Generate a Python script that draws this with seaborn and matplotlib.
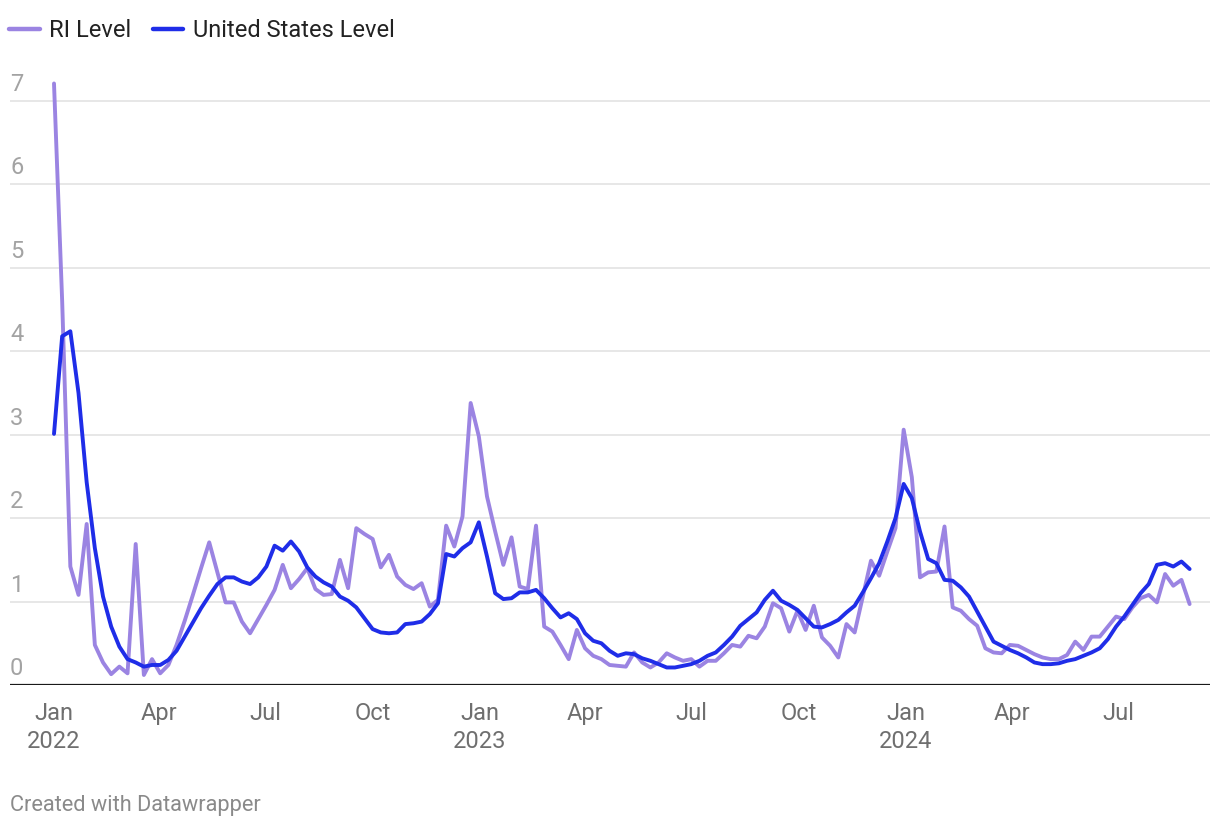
"""
RI vs United States level, weekly, Jan 2022 - Aug 2024 (Datawrapper-style line chart).
"""
import numpy as np
import pandas as pd
import matplotlib
matplotlib.use("Agg")
import matplotlib.pyplot as plt
import matplotlib.transforms as mtransforms
import seaborn as sns

# ── 1. Data ──────────────────────────────────────────────
first_week = "2022-01-01"

ri_level = [
    7.21, 4.60, 1.42, 1.08, 1.93, 0.48, 0.27, 0.13, 0.22, 0.14,
    1.69, 0.12, 0.31, 0.14, 0.24, 0.48, 0.77, 1.08, 1.40, 1.71,
    1.35, 0.99, 0.99, 0.76, 0.62, 0.79, 0.96, 1.14, 1.44, 1.16,
    1.27, 1.40, 1.15, 1.08, 1.09, 1.50, 1.16, 1.88, 1.81, 1.75,
    1.41, 1.56, 1.30, 1.20, 1.15, 1.22, 0.94, 1.02, 1.91, 1.66,
    2.02, 3.38, 2.98, 2.26, 1.84, 1.44, 1.77, 1.18, 1.15, 1.91,
    0.70, 0.64, 0.48, 0.31, 0.66, 0.44, 0.35, 0.31, 0.24, 0.23,
    0.22, 0.39, 0.27, 0.21, 0.27, 0.38, 0.33, 0.29, 0.31, 0.22,
    0.29, 0.29, 0.38, 0.48, 0.46, 0.59, 0.56, 0.70, 0.98, 0.92,
    0.64, 0.89, 0.66, 0.95, 0.57, 0.47, 0.33, 0.73, 0.63, 1.06,
    1.49, 1.31, 1.60, 1.88, 3.06, 2.49, 1.29, 1.35, 1.36, 1.90,
    0.93, 0.89, 0.79, 0.71, 0.44, 0.39, 0.38, 0.48, 0.47, 0.42,
    0.37, 0.33, 0.31, 0.31, 0.36, 0.52, 0.42, 0.58, 0.58, 0.70,
    0.82, 0.79, 0.93, 1.04, 1.08, 0.99, 1.33, 1.19, 1.26, 0.97,
]

us_level = [
    3.01, 4.18, 4.24, 3.50, 2.43, 1.64, 1.06, 0.70, 0.46, 0.31,
    0.27, 0.22, 0.24, 0.24, 0.30, 0.41, 0.58, 0.75, 0.92, 1.07,
    1.21, 1.29, 1.29, 1.24, 1.21, 1.29, 1.42, 1.67, 1.61, 1.72,
    1.60, 1.41, 1.30, 1.23, 1.18, 1.06, 1.01, 0.93, 0.80, 0.67,
    0.63, 0.62, 0.63, 0.73, 0.74, 0.76, 0.85, 0.98, 1.57, 1.54,
    1.64, 1.71, 1.95, 1.54, 1.10, 1.03, 1.04, 1.11, 1.11, 1.14,
    1.04, 0.92, 0.81, 0.86, 0.79, 0.62, 0.53, 0.50, 0.41, 0.35,
    0.38, 0.37, 0.32, 0.29, 0.25, 0.21, 0.21, 0.23, 0.25, 0.29,
    0.35, 0.39, 0.48, 0.58, 0.71, 0.79, 0.87, 1.02, 1.13, 1.01,
    0.96, 0.90, 0.80, 0.70, 0.69, 0.73, 0.78, 0.87, 0.95, 1.11,
    1.28, 1.46, 1.72, 2.00, 2.41, 2.24, 1.84, 1.51, 1.46, 1.26,
    1.25, 1.17, 1.06, 0.88, 0.70, 0.52, 0.47, 0.42, 0.38, 0.33,
    0.27, 0.25, 0.25, 0.26, 0.29, 0.31, 0.35, 0.39, 0.44, 0.55,
    0.70, 0.82, 0.96, 1.10, 1.21, 1.44, 1.46, 1.42, 1.48, 1.39,
]

series_names = ["RI Level", "United States Level"]
series_colors = ["#9b84e2", "#1f2de8"]

tick_dates = ["2022-01-01", "2022-04-01", "2022-07-01", "2022-10-01",
              "2023-01-01", "2023-04-01", "2023-07-01", "2023-10-01",
              "2024-01-01", "2024-04-01", "2024-07-01"]
tick_labels = ["Jan\n2022", "Apr", "Jul", "Oct",
               "Jan\n2023", "Apr", "Jul", "Oct",
               "Jan\n2024", "Apr", "Jul"]
y_ticks = [0, 1, 2, 3, 4, 5, 6, 7]

# ── 2. Long-form frame ───────────────────────────────────
weeks = pd.date_range(first_week, periods=len(ri_level), freq="7D")
df = pd.concat([
    pd.DataFrame({"week": weeks, "level": ri_level, "series": series_names[0]}),
    pd.DataFrame({"week": weeks, "level": us_level, "series": series_names[1]}),
])

# ── 3. Style ─────────────────────────────────────────────
sns.set_theme(style="white")
plt.rcParams["font.family"] = ["Roboto", "DejaVu Sans"]

W, H, DPI = 1220, 832, 100
fig = plt.figure(figsize=(W / DPI, H / DPI), dpi=DPI)

# pixel layout of the plot area
px_left, px_right = 10, 1210
px_zero, px_top = 685, 68
ax = fig.add_axes([px_left / W, 1 - px_zero / H,
                   (px_right - px_left) / W, (px_zero - px_top) / H])

sns.lineplot(data=df, x="week", y="level", hue="series",
             hue_order=series_names, palette=series_colors,
             linewidth=2.8, ax=ax, legend=False,
             solid_joinstyle="round", solid_capstyle="round")

# ── 4. Axes ──────────────────────────────────────────────
px_per_day = 426.0 / 365.0
x0 = pd.Timestamp(first_week)
ax.set_xlim(x0 - pd.Timedelta(days=(54 - px_left) / px_per_day),
            x0 + pd.Timedelta(days=(px_right - 54) / px_per_day))
px_per_unit = (685 - 101) / 7.0
ax.set_ylim(0, (px_zero - px_top) / px_per_unit)

ax.set_xticks(pd.to_datetime(tick_dates))
ax.set_xticklabels(tick_labels, fontsize=17, color="#6f6f6f",
                   linespacing=1.3)
ax.tick_params(axis="x", length=0, pad=12)
ax.set_yticks([])
ax.set_xlabel("")
ax.set_ylabel("")
for s in ax.spines.values():
    s.set_visible(False)

# gridlines + labels sitting above them
for v in y_ticks:
    if v == 0:
        ax.axhline(v, color="#1a1a1a", lw=1.6, zorder=3)
    else:
        ax.axhline(v, color="#e3e3e3", lw=1.2, zorder=0)
    tr = mtransforms.offset_copy(ax.get_yaxis_transform(), fig=fig,
                                 x=0, y=5, units="dots")
    ax.text(0, v, str(v), transform=tr, ha="left", va="bottom",
            fontsize=17, color="#a3a3a3")

# ── 5. Legend + footer ───────────────────────────────────
handles = [plt.Line2D([], [], color=c, lw=3.2, solid_capstyle="round")
           for c in series_colors]
fig.legend(handles, series_names, loc="upper left",
           bbox_to_anchor=(9 / W, 1 - 19 / H), ncol=2, frameon=False,
           fontsize=17, handlelength=1.3, handletextpad=0.4,
           columnspacing=0.9, borderpad=0, borderaxespad=0,
           labelcolor="#222222")

fig.text(10 / W, 1 - 806 / H, "Created with Datawrapper", ha="left",
         va="center", fontsize=15.7, color="#8a8a8a")

fig.savefig("out.png", dpi=DPI)
